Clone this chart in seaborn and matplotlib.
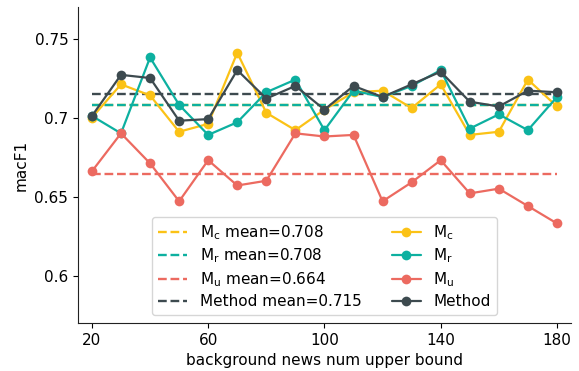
import numpy as np
import pandas as pd
import matplotlib
matplotlib.use("Agg")
import matplotlib.pyplot as plt
import seaborn as sns
from matplotlib.lines import Line2D

x_vals = [20, 30, 40, 50, 60, 70, 80, 90, 100, 110, 120, 130, 140, 150, 160, 170, 180]
mc = [0.700, 0.721, 0.714, 0.691, 0.696, 0.741, 0.703, 0.692, 0.705, 0.716, 0.717, 0.706, 0.721, 0.689, 0.691, 0.724, 0.707]
mr = [0.701, 0.690, 0.738, 0.708, 0.689, 0.697, 0.716, 0.724, 0.692, 0.717, 0.713, 0.720, 0.730, 0.693, 0.702, 0.692, 0.713]
mu = [0.666, 0.690, 0.671, 0.647, 0.673, 0.657, 0.660, 0.690, 0.688, 0.689, 0.647, 0.659, 0.673, 0.652, 0.655, 0.644, 0.633]
method = [0.701, 0.727, 0.725, 0.698, 0.699, 0.730, 0.712, 0.720, 0.705, 0.720, 0.713, 0.721, 0.729, 0.710, 0.707, 0.717, 0.716]
series_names = [r"M$_\mathrm{c}$", r"M$_\mathrm{r}$", r"M$_\mathrm{u}$", "Method"]
means = [0.708, 0.708, 0.664, 0.715]
colors = ["#FBC216", "#0DB0A0", "#EC6A60", "#3D4A4F"]
y_ticks = [0.6, 0.65, 0.7, 0.75]
y_tick_labels = ["0.6", "0.65", "0.7", "0.75"]
x_ticks = [20, 60, 100, 140, 180]

sns.set_style("ticks")
plt.rcParams["font.family"] = ["DejaVu Sans"]
plt.rcParams["text.color"] = "black"
plt.rcParams["axes.labelcolor"] = "black"
plt.rcParams["xtick.color"] = "black"
plt.rcParams["ytick.color"] = "black"
plt.rcParams["axes.edgecolor"] = "#222222"

df = pd.DataFrame({
    "x": x_vals * 4,
    "y": mc + mr + mu + method,
    "series": sum([[n] * len(x_vals) for n in series_names], []),
})

fig = plt.figure(figsize=(5.79, 3.71), dpi=100)
ax = fig.add_axes([0.1347, 0.1294, 0.8513, 0.852])

mean_handles = []
for name, m, c in zip(series_names, means, colors):
    ax.hlines(m, min(x_vals), max(x_vals), colors=c, linestyles="--", linewidth=1.7, zorder=1)
    mean_handles.append(Line2D([], [], color=c, linestyle="--", linewidth=1.7,
                               label=f"{name} mean={m:.3f}"))

sns.lineplot(data=df, x="x", y="y", hue="series", hue_order=series_names,
             palette=colors, marker="o", markersize=7, markeredgewidth=0,
             linewidth=1.6, ax=ax, legend=False, zorder=2)

series_handles = [Line2D([], [], color=c, marker="o", markersize=7, markeredgewidth=0,
                         linewidth=1.6, label=n) for n, c in zip(series_names, colors)]

ax.legend(handles=mean_handles + series_handles, ncol=2, loc="lower center",
          fontsize=11, columnspacing=2.0, handlelength=1.9, labelspacing=0.33,
          borderaxespad=0.5)

ax.set_xlim(15.2, 184.8)
ax.set_ylim(0.570, 0.770)
ax.set_xticks(x_ticks)
ax.set_yticks(y_ticks)
ax.set_yticklabels(y_tick_labels)
ax.tick_params(labelsize=11)
ax.set_xlabel("background news num upper bound", fontsize=11)
ax.set_ylabel("macF1", fontsize=11)
sns.despine(ax=ax)

fig.savefig("out.png", dpi=100)
